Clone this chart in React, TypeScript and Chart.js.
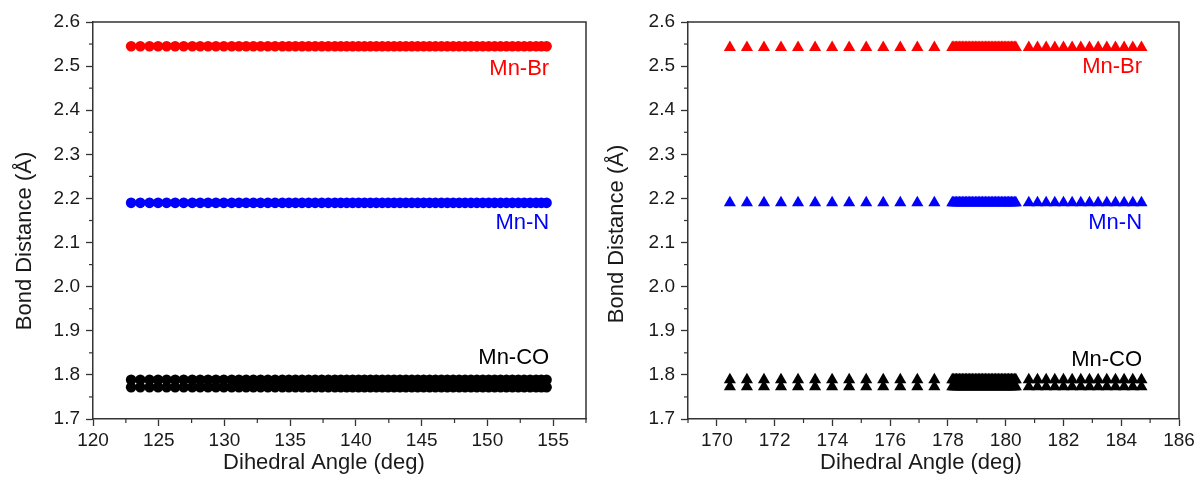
import React, { useEffect, useRef } from "react";
import { Chart, registerables } from "chart.js";

Chart.register(...registerables);

// ---------- data ----------
const bondNames = ["Mn-Br", "Mn-N", "Mn-CO", "Mn-CO"];
const bondColors = ["#ff0000", "#0000ff", "#000000", "#000000"];

// left panel (circles): dihedral angles (deg)
const leftAngles = [
  122.9, 123.6, 124.3, 124.95, 125.6, 126.25, 126.9, 127.55, 128.15, 128.75,
  129.35, 129.95, 130.55, 131.1, 131.65, 132.2, 132.75, 133.3, 133.85, 134.4,
  134.9, 135.4, 135.9, 136.4, 136.9, 137.4, 137.9, 138.4, 138.85, 139.3,
  139.75, 140.2, 140.65, 141.1, 141.55, 142.0, 142.45, 142.9, 143.35, 143.8,
  144.25, 144.7, 145.15, 145.6, 146.05, 146.5, 146.95, 147.4, 147.85, 148.3,
  148.75, 149.2, 149.65, 150.1, 150.55, 151.0, 151.45, 151.9, 152.35, 152.8,
  153.25, 153.7, 154.1, 154.5,
];
// bond distances (Å) for Mn-Br, Mn-N, Mn-CO (upper), Mn-CO (lower)
const leftDistances = [2.545, 2.19, 1.789, 1.772];

// right panel (triangles): dihedral angles (deg)
const rightAngles = [
  170.45, 171.04, 171.63, 172.22, 172.81, 173.4, 173.99, 174.58, 175.17, 175.76,
  176.35, 176.94, 177.53,
  178.15, 178.2, 178.25, 178.3, 178.35, 178.4, 178.45, 178.5, 178.55, 178.6,
  178.65, 178.7, 178.75, 178.8, 178.85, 178.9, 178.95, 179.0, 179.05, 179.1,
  179.15, 179.2, 179.25, 179.3, 179.35, 179.4, 179.45, 179.5, 179.55, 179.6,
  179.65, 179.7, 179.75, 179.8, 179.85, 179.9, 179.95, 180.0, 180.05, 180.1,
  180.15, 180.2, 180.25, 180.3, 180.35,
  180.8, 181.1, 181.4, 181.7, 182.0, 182.3, 182.6, 182.9, 183.2, 183.5,
  183.8, 184.1, 184.4, 184.7,
];
const rightDistances = [2.542, 2.19, 1.789, 1.773];

// tick labels
const leftXTicks = [120, 125, 130, 135, 140, 145, 150, 155];
const rightXTicks = [170, 172, 174, 176, 178, 180, 182, 184, 186];
const yTicks = [1.7, 1.8, 1.9, 2.0, 2.1, 2.2, 2.3, 2.4, 2.5, 2.6];

// text labels
const labelNames = ["Mn-Br", "Mn-N", "Mn-CO"];
const labelColors = ["#ff0000", "#0000ff", "#000000"];
const xTitle = "Dihedral Angle (deg)";
const yTitle = "Bond Distance (Å)";

const FONT = "'Liberation Sans', Arial, Helvetica, sans-serif";
const INK = "#1a1a1a";

type PanelCfg = {
  angles: number[];
  distances: number[];
  pointStyle: string;
  radius: number;
  xMin: number;
  xMax: number;
  xTicks: number[];
  xMinorStep: number;
  padTop: number;
  padRight: number;
  yWidth: number;
  labelX: number;
  labelY: number[];
  yTitlePos: [number, number];
  xTitlePos: [number, number];
};

const leftPanel: PanelCfg = {
  angles: leftAngles,
  distances: leftDistances,
  pointStyle: "circle",
  radius: 5.3,
  xMin: 120,
  xMax: 157.5,
  xTicks: leftXTicks,
  xMinorStep: 2.5,
  padTop: 22,
  padRight: 14,
  yWidth: 93,
  labelX: 154.7,
  labelY: [2.494, 2.145, 1.839],
  yTitlePos: [25, 241],
  xTitlePos: [324, 463],
};

const rightPanel: PanelCfg = {
  angles: rightAngles,
  distances: rightDistances,
  pointStyle: "triangle",
  radius: 7,
  xMin: 169,
  xMax: 186,
  xTicks: rightXTicks,
  xMinorStep: 1,
  padTop: 22,
  padRight: 25,
  yWidth: 88,
  labelX: 184.72,
  labelY: [2.499, 2.145, 1.833],
  yTitlePos: [17, 234],
  xTitlePos: [321, 463],
};

function makeConfig(p: PanelCfg): any {
  const order = [2, 3, 1, 0];
  const datasets = order.map((i) => ({
    label: bondNames[i],
    data: p.angles.map((a) => ({ x: a, y: p.distances[i] })),
    pointStyle: p.pointStyle,
    pointRadius: p.radius,
    pointHoverRadius: p.radius,
    pointBackgroundColor: bondColors[i],
    pointBorderColor: bondColors[i],
    pointBorderWidth: 0,
    showLine: false,
  }));

  const decoPlugin = {
    id: "deco",
    afterDraw(chart: any) {
      const ctx = chart.ctx;
      const { left, right, top, bottom } = chart.chartArea;
      const xs = chart.scales.x;
      const ys = chart.scales.y;
      ctx.save();
      // frame (top & right)
      ctx.strokeStyle = "#333";
      ctx.lineWidth = 1.5;
      ctx.beginPath();
      ctx.moveTo(left, top);
      ctx.lineTo(right, top);
      ctx.lineTo(right, bottom);
      ctx.stroke();
      // minor ticks
      ctx.lineWidth = 1.2;
      for (let k = 0; k < p.xTicks.length; k++) {
        const v = p.xTicks[k] + p.xMinorStep;
        if (v <= p.xMax + 1e-9) {
          const px = xs.getPixelForValue(v);
          ctx.beginPath();
          ctx.moveTo(px, bottom);
          ctx.lineTo(px, bottom + 4);
          ctx.stroke();
        }
        const v2 = p.xTicks[0] - p.xMinorStep;
        if (k === 0 && v2 >= p.xMin - 1e-9) {
          const px = xs.getPixelForValue(v2);
          ctx.beginPath();
          ctx.moveTo(px, bottom);
          ctx.lineTo(px, bottom + 4);
          ctx.stroke();
        }
      }
      for (let k = 0; k < yTicks.length - 1; k++) {
        const v = (yTicks[k] + yTicks[k + 1]) / 2;
        const py = ys.getPixelForValue(v);
        ctx.beginPath();
        ctx.moveTo(left, py);
        ctx.lineTo(left - 4, py);
        ctx.stroke();
      }
      // series labels
      ctx.font = `22px ${FONT}`;
      ctx.textAlign = "right";
      ctx.textBaseline = "middle";
      labelNames.forEach((name, i) => {
        ctx.fillStyle = labelColors[i];
        ctx.fillText(name, xs.getPixelForValue(p.labelX), ys.getPixelForValue(p.labelY[i]));
      });
      // axis titles
      ctx.fillStyle = INK;
      ctx.textAlign = "center";
      ctx.fillText(xTitle, p.xTitlePos[0], p.xTitlePos[1]);
      ctx.translate(p.yTitlePos[0], p.yTitlePos[1]);
      ctx.rotate(-Math.PI / 2);
      ctx.fillText(yTitle, 0, 0);
      ctx.restore();
    },
  };

  return {
    type: "scatter",
    data: { datasets },
    plugins: [decoPlugin],
    options: {
      animation: false,
      responsive: false,
      devicePixelRatio: 1,
      events: [],
      layout: { padding: { top: p.padTop, right: p.padRight, left: 0, bottom: 0 } },
      plugins: { legend: { display: false }, tooltip: { enabled: false }, title: { display: false } },
      scales: {
        x: {
          type: "linear",
          min: p.xMin,
          max: p.xMax,
          afterBuildTicks: (scale: any) => {
            scale.ticks = p.xTicks.map((v) => ({ value: v }));
          },
          afterFit: (scale: any) => {
            scale.height = 64;
          },
          ticks: {
            autoSkip: false,
            maxRotation: 0,
            padding: 3,
            color: INK,
            font: { family: FONT, size: 19 },
            callback: (v: any) => String(v),
          },
          grid: {
            drawOnChartArea: false,
            drawTicks: true,
            tickLength: 7,
            tickWidth: 1.3,
            tickColor: "#333",
          },
          border: { display: true, color: "#333", width: 1.5 },
          title: { display: false },
        },
        y: {
          type: "linear",
          min: 1.7,
          max: 2.6,
          afterBuildTicks: (scale: any) => {
            scale.ticks = yTicks.map((v) => ({ value: v }));
          },
          afterFit: (scale: any) => {
            scale.width = p.yWidth;
          },
          ticks: {
            padding: 6,
            color: INK,
            font: { family: FONT, size: 19 },
            callback: (v: any) => Number(v).toFixed(1),
          },
          grid: {
            drawOnChartArea: false,
            drawTicks: true,
            tickLength: 7,
            tickWidth: 1.3,
            tickColor: "#333",
          },
          border: { display: true, color: "#333", width: 1.5 },
          title: { display: false },
        },
      },
    },
  };
}

function Panel({ cfg, left, width }: { cfg: PanelCfg; left: number; width: number }) {
  const ref = useRef<HTMLCanvasElement | null>(null);
  useEffect(() => {
    if (!ref.current) return;
    const chart = new Chart(ref.current, makeConfig(cfg));
    return () => chart.destroy();
  }, [cfg]);
  return (
    <canvas
      ref={ref}
      width={width}
      height={483}
      style={{ position: "absolute", left, top: 0, width, height: 483 }}
    />
  );
}

export default function App() {
  return (
    <div
      style={{
        position: "absolute",
        left: 0,
        top: 0,
        width: 1204,
        height: 483,
        background: "#ffffff",
        overflow: "hidden",
      }}
    >
      <Panel cfg={leftPanel} left={0} width={600} />
      <Panel cfg={rightPanel} left={600} width={604} />
    </div>
  );
}
